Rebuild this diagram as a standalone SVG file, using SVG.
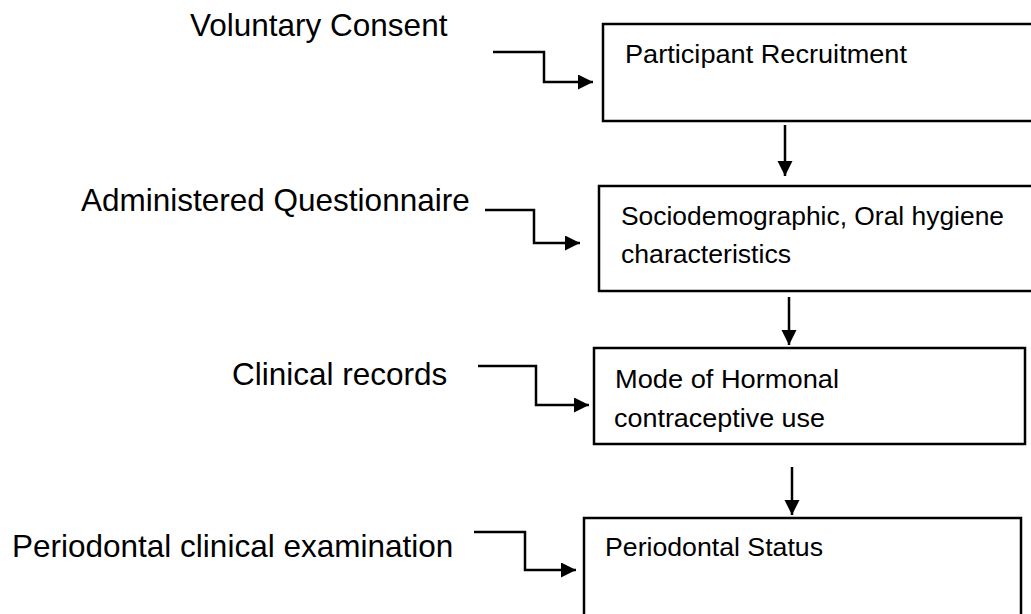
<svg xmlns="http://www.w3.org/2000/svg" width="1031" height="614" viewBox="0 0 1031 614">
  <style>
    .box { fill: #ffffff; stroke: #000000; stroke-width: 2.5; }
    .lbl { font-family: "Liberation Sans", Arial, sans-serif; font-size: 31.5px; fill: #000000; }
    .txt { font-family: "Liberation Sans", Arial, sans-serif; font-size: 25px; fill: #000000; }
    .conn { fill: none; stroke: #000000; stroke-width: 2.5; marker-end: url(#arrow); }
  </style>
  <defs>
    <marker id="arrow" markerUnits="userSpaceOnUse" markerWidth="18" markerHeight="18" refX="15" refY="7.5" orient="auto">
      <path d="M0,0 L15,7.5 L0,15 Z" fill="#000000"/>
    </marker>
  </defs>
  <rect width="1031" height="614" fill="#ffffff"/>

  <g id="label-voluntary-consent">
    <text class="lbl" x="190" y="36">Voluntary Consent</text>
  </g>
  <g id="label-administered-questionnaire">
    <text class="lbl" x="81" y="211">Administered Questionnaire</text>
  </g>
  <g id="label-clinical-records">
    <text class="lbl" x="232" y="385">Clinical records</text>
  </g>
  <g id="label-periodontal-exam">
    <text class="lbl" x="12" y="557">Periodontal clinical examination</text>
  </g>

  <g id="node-participant-recruitment">
    <rect class="box" x="603" y="24" width="440" height="97"/>
    <text class="txt" x="625" y="63" textLength="282" lengthAdjust="spacingAndGlyphs">Participant Recruitment</text>
  </g>
  <g id="node-sociodemographic">
    <rect class="box" x="599" y="186" width="440" height="105"/>
    <text class="txt" x="621" y="225" textLength="383" lengthAdjust="spacingAndGlyphs">Sociodemographic, Oral hygiene</text>
    <text class="txt" x="621" y="263" textLength="170" lengthAdjust="spacingAndGlyphs">characteristics</text>
  </g>
  <g id="node-hormonal">
    <rect class="box" x="594" y="348" width="431" height="96"/>
    <text class="txt" x="615" y="388" textLength="224" lengthAdjust="spacingAndGlyphs">Mode of Hormonal</text>
    <text class="txt" x="614" y="427" textLength="211" lengthAdjust="spacingAndGlyphs">contraceptive use</text>
  </g>
  <g id="node-periodontal-status">
    <rect class="box" x="584" y="518" width="437" height="120"/>
    <text class="txt" x="605" y="556" textLength="218" lengthAdjust="spacingAndGlyphs">Periodontal Status</text>
  </g>

  <g id="connectors">
    <polyline class="conn" points="493,52 544,52 544,82 593,82"/>
    <polyline class="conn" points="485,210 534,210 534,243 580,243"/>
    <polyline class="conn" points="478,366 536,366 536,405 589,405"/>
    <polyline class="conn" points="474,532 525,532 525,570 576,570"/>
    <line class="conn" x1="785" y1="125" x2="785" y2="176"/>
    <line class="conn" x1="789" y1="297" x2="789" y2="345"/>
    <line class="conn" x1="792" y1="467" x2="792" y2="515"/>
  </g>
</svg>
